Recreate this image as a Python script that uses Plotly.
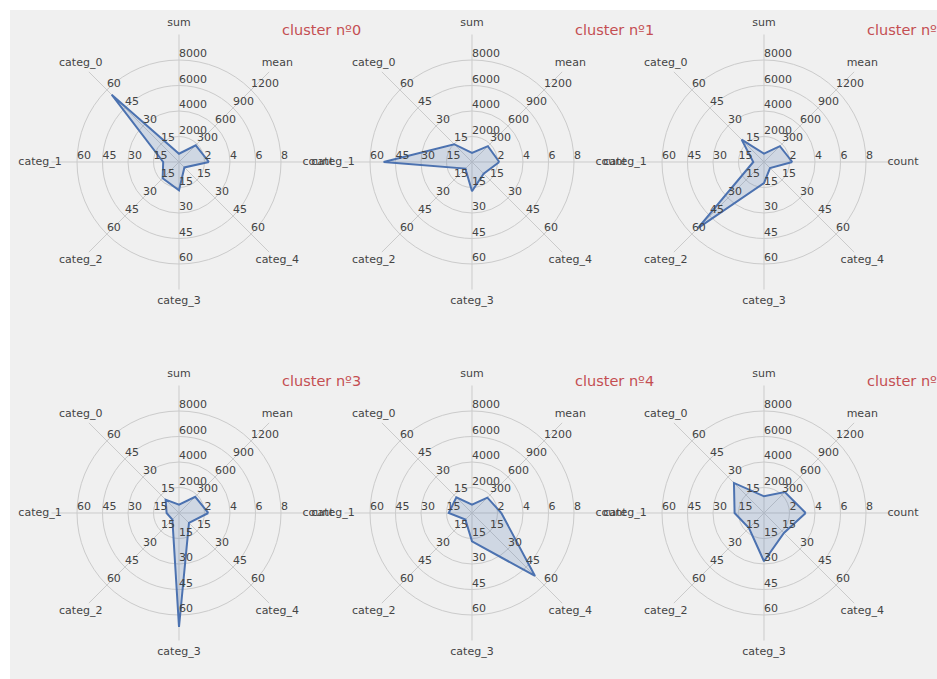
import plotly.graph_objects as go

# ---- data ----
variables = ["count", "mean", "sum", "categ_0", "categ_1", "categ_2", "categ_3", "categ_4"]
angles = [0, 45, 90, 135, 180, 225, 270, 315]
range_max = [10, 1500, 10000, 75, 75, 75, 75, 75]
ticks_count = [2, 4, 6, 8]
ticks_mean = [300, 600, 900, 1200]
ticks_sum = [2000, 4000, 6000, 8000]
ticks_categ = [15, 30, 45, 60]
tick_sets = [ticks_count, ticks_mean, ticks_sum, ticks_categ, ticks_categ,
             ticks_categ, ticks_categ, ticks_categ]

cluster_names = ["cluster nº0", "cluster nº1", "cluster nº2",
                 "cluster nº3", "cluster nº4", "cluster nº5"]
cluster_0 = [2.35, 278, 650, 56.0, 9.3, 13.6, 16.7, 4.5]
cluster_1 = [2.14, 264, 706, 14.8, 52.0, 5.5, 17.2, 9.7]
cluster_2 = [2.22, 264, 650, 18.6, 6.3, 55.0, 12.4, 5.0]
cluster_3 = [2.30, 270, 650, 11.1, 7.3, 5.5, 67.0, 8.3]
cluster_4 = [2.30, 256, 650, 13.0, 13.7, 5.5, 16.7, 52.4]
cluster_5 = [3.27, 347, 1310, 25.0, 17.3, 12.5, 28.4, 16.6]
clusters = [cluster_0, cluster_1, cluster_2, cluster_3, cluster_4, cluster_5]

# ---- layout geometry (pixels) ----
W, H = 937, 679
ML, MT = 10, 10
PW, PH = W - ML, H - MT
centers_x = [179, 472, 764]
centers_y = [162, 513]
R = 127.5
LABEL_R = 1.09      # variable names, as a fraction of the plot radius
OUTER = 1.1         # range of the label overlay

TXT = "#444444"
GRID = "#cbcbcb"
BLUE = "#4c72b0"
RED = "#c44e52"
FONT = "DejaVu Sans"


def dom(cx, cy, rad):
    return dict(x=[(cx - rad - ML) / PW, (cx + rad - ML) / PW],
                y=[(H - (cy + rad)) / PH, (H - (cy - rad)) / PH])


fig = go.Figure()
layout_polars = {}
annotations = []
n = len(clusters)

for i, values in enumerate(clusters):
    row, col = divmod(i, 3)
    cx, cy = centers_x[col], centers_y[row]
    name = "polar" if i == 0 else f"polar{i + 1}"
    lname = f"polar{n + i + 1}"
    layout_polars[name] = dict(
        domain=dom(cx, cy, R),
        bgcolor="rgba(0,0,0,0)",
        radialaxis=dict(range=[0, 1], tickvals=[0.2, 0.4, 0.6, 0.8],
                        showticklabels=False, ticks="", showline=False,
                        gridcolor=GRID, gridwidth=1),
        angularaxis=dict(tickmode="array", tickvals=angles, showticklabels=False,
                         ticks="", showline=False, gridcolor=GRID, gridwidth=1,
                         direction="counterclockwise", rotation=0),
    )
    layout_polars[lname] = dict(
        domain=dom(cx, cy, R * OUTER),
        bgcolor="rgba(0,0,0,0)",
        radialaxis=dict(range=[0, OUTER], visible=False),
        angularaxis=dict(visible=False, direction="counterclockwise", rotation=0),
    )

    # data polygon, scaled to each variable's range
    r_norm = [v / m for v, m in zip(values, range_max)]
    fig.add_trace(go.Scatterpolar(
        r=r_norm + [r_norm[0]], theta=angles + [angles[0]],
        mode="lines", fill="toself", fillcolor="rgba(76,114,176,0.2)",
        line=dict(color=BLUE, width=2), subplot=name, showlegend=False,
        hoverinfo="skip"))

    # radial tick labels for each variable
    tr, tt, tx = [], [], []
    for ang, m, ts in zip(angles, range_max, tick_sets):
        for t in ts:
            tr.append(t / m)
            tt.append(ang)
            tx.append(f"{t}")
    fig.add_trace(go.Scatterpolar(
        r=tr, theta=tt, text=tx, mode="text", textposition="top right",
        textfont=dict(family=FONT, size=11, color=TXT), subplot=name,
        showlegend=False, cliponaxis=False, hoverinfo="skip"))

    # variable names
    fig.add_trace(go.Scatterpolar(
        r=[LABEL_R] * len(variables), theta=angles, text=variables, mode="text",
        textposition="middle center",
        textfont=dict(family=FONT, size=11, color=TXT), subplot=lname,
        showlegend=False, cliponaxis=False, hoverinfo="skip"))

    annotations.append(dict(
        text=cluster_names[i], xref="paper", yref="paper",
        x=(cx + 142 - ML) / PW, y=(H - (cy - 132)) / PH,
        xanchor="center", yanchor="middle", showarrow=False,
        font=dict(family=FONT, size=14.5, color=RED)))

fig.update_layout(
    width=W, height=H,
    margin=dict(l=ML, r=0, t=MT, b=0),
    paper_bgcolor="white",
    showlegend=False,
    annotations=annotations,
    shapes=[dict(type="rect", xref="paper", yref="paper", x0=0, x1=1, y0=0, y1=1,
                 fillcolor="#f0f0f0", line=dict(width=0), layer="below")],
    **layout_polars,
)

fig.write_html("out.html", config={"displayModeBar": False},
               post_script="document.body.style.margin='0';")
